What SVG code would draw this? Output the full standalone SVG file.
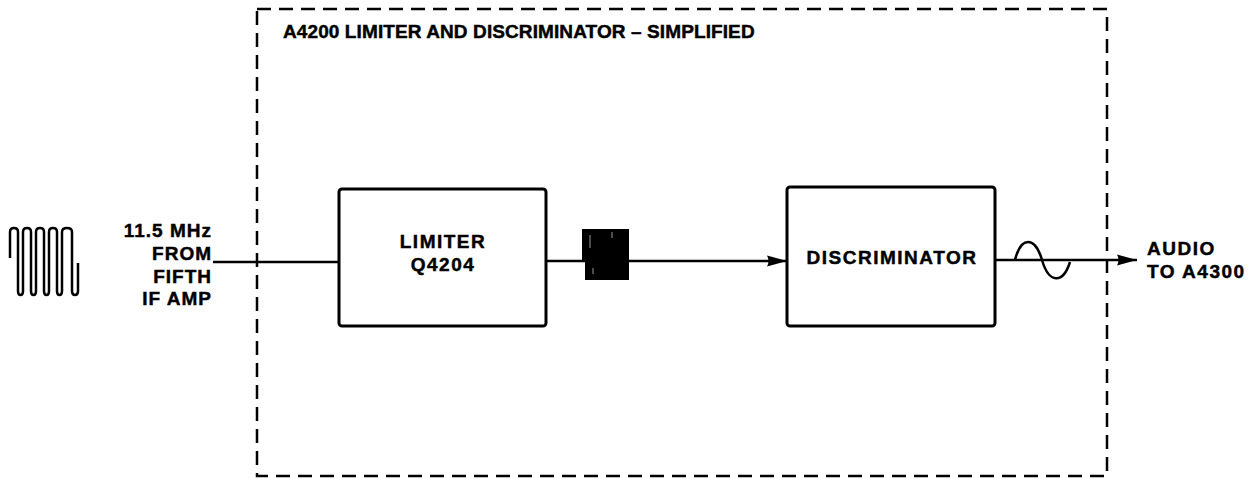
<svg xmlns="http://www.w3.org/2000/svg" width="1255" height="478" viewBox="0 0 1255 478">
<style>
text{font-family:"Liberation Sans",Arial,sans-serif;font-weight:bold;font-size:19px;fill:#000;stroke:#000;stroke-width:0.45;letter-spacing:1.5px}
.box{fill:#fff;stroke:#000;stroke-width:3}
.ln{fill:none;stroke:#000;stroke-width:2.5}
.dash{fill:none;stroke:#000;stroke-width:2.5;stroke-dasharray:14 8}
</style>
<defs>
<marker id="ah" markerWidth="22" markerHeight="12" refX="20" refY="6" orient="auto" markerUnits="userSpaceOnUse">
<path d="M0,0.5 L20,6 L0,11.5 Q3,6 0,0.5 Z" fill="#000"/>
</marker>
</defs>
<g id="enclosure">
<rect class="dash" x="257" y="9" width="850" height="467"/>
<text x="283" y="38" style="letter-spacing:0.1px">A4200 LIMITER AND DISCRIMINATOR – SIMPLIFIED</text>
</g>
<g id="input-signal">
<path class="ln" d="M10,258 V232 Q10,228 14,228 Q18,228 18,232 V291 Q18,295 20.5,295 Q23,295 23,291 V232 Q23,228 27,228 Q31,228 31,232 V291 Q31,295 33.5,295 Q36,295 36,291 V232 Q36,228 40,228 Q44,228 44,232 V291 Q44,295 46.5,295 Q49,295 49,291 V232 Q49,228 53,228 Q57,228 57,232 V291 Q57,295 59.5,295 Q62,295 62,291 V232 Q62,228 67,228 Q72,228 72,232 V291 Q72,295 75,295 Q78,295 78,291 V263"/>
<text x="212" y="237" text-anchor="end" style="letter-spacing:1px">11.5 MHz</text>
<text x="212" y="260" text-anchor="end" style="letter-spacing:1px">FROM</text>
<text x="212" y="283" text-anchor="end" style="letter-spacing:1px">FIFTH</text>
<text x="212" y="305" text-anchor="end" style="letter-spacing:1px">IF AMP</text>
</g>
<g id="connectors">
<line class="ln" x1="213" y1="262" x2="339" y2="262"/>
<line class="ln" x1="546" y1="261" x2="787" y2="261" marker-end="url(#ah)"/>
<line class="ln" x1="995" y1="260" x2="1137" y2="260" marker-end="url(#ah)"/>
</g>
<g id="limiter">
<rect class="box" x="339" y="189" width="207" height="137" rx="3"/>
<text x="443" y="248" text-anchor="middle">LIMITER</text>
<text x="443" y="271" text-anchor="middle">Q4204</text>
</g>
<g id="burst">
<rect x="582" y="229" width="3" height="33" fill="#000"/>
<rect x="585" y="229" width="44" height="51" fill="#000"/>
<path d="M590,235 V248 M612,232 V238 M593,268 V274" stroke="#fff" stroke-width="0.6"/>
</g>
<g id="discriminator">
<rect class="box" x="787" y="187" width="208" height="139" rx="3"/>
<text x="892" y="264" text-anchor="middle">DISCRIMINATOR</text>
</g>
<g id="output-signal">
<path class="ln" d="M1015,260 C1021,236 1035,236 1042,260 C1049,284 1063,284 1070,262"/>
<text x="1147" y="255">AUDIO</text>
<text x="1147" y="278">TO A4300</text>
</g>
</svg>
